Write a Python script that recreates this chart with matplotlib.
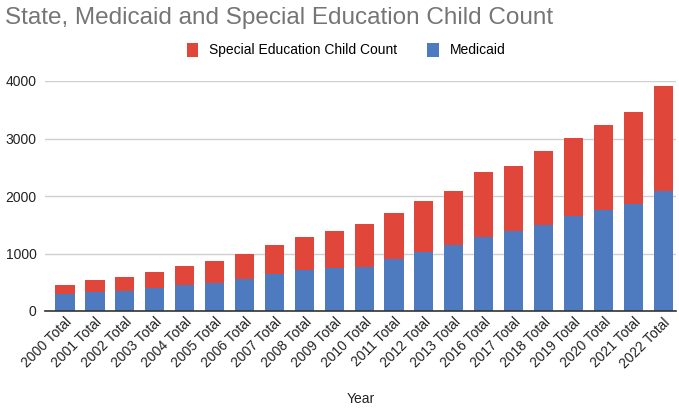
import matplotlib.pyplot as plt
import numpy as np

# ---- Data ----
years = ["2000 Total", "2001 Total", "2002 Total", "2003 Total", "2004 Total",
         "2005 Total", "2006 Total", "2007 Total", "2008 Total", "2009 Total",
         "2010 Total", "2011 Total", "2012 Total", "2013 Total", "2016 Total",
         "2017 Total", "2018 Total", "2019 Total", "2020 Total", "2021 Total",
         "2022 Total"]
medicaid = [290, 336, 354, 400, 452, 481, 557, 649, 707, 754,
            765, 899, 1020, 1148, 1293, 1391, 1501, 1652, 1757, 1861, 2087]
special_ed = [157, 197, 243, 284, 331, 389, 440, 493, 580, 637,
              754, 811, 899, 933, 1124, 1131, 1276, 1351, 1478, 1606, 1820]

blue = "#4e7bbf"
red = "#e0473a"

plt.rcParams["font.family"] = ["Liberation Sans", "DejaVu Sans"]

fig = plt.figure(figsize=(6.79, 4.08), dpi=100)
ax = fig.add_axes([45 / 679, 97 / 408, 631 / 679, 230 / 408])

x = np.arange(len(years))
ax.bar(x, medicaid, width=0.64, color=blue, label="Medicaid", zorder=3)
ax.bar(x, special_ed, width=0.64, bottom=medicaid, color=red,
       label="Special Education Child Count", zorder=3)

ax.set_ylim(0, 4000)
ax.set_xlim(-0.67, 20.43)
ax.set_yticks([0, 1000, 2000, 3000, 4000])
ax.grid(axis="y", color="#d0d0d0", linewidth=1, zorder=0)
ax.tick_params(axis="y", length=0, labelsize=10, colors="#222222", pad=6)
ax.tick_params(axis="x", length=0, labelsize=10, colors="#222222", pad=3)
ax.set_xticks(x)
ax.set_xticklabels(years, rotation=45, ha="right", rotation_mode="anchor")

for s in ["top", "right", "left"]:
    ax.spines[s].set_visible(False)
ax.spines["bottom"].set_color("#333333")
ax.spines["bottom"].set_linewidth(1.2)
ax.spines["bottom"].set_zorder(4)

ax.set_xlabel("Year", fontsize=10, color="#222222")
ax.xaxis.set_label_coords(0.5, -0.352)

fig.text(5 / 679, 1 - 18 / 408, "State, Medicaid and Special Education Child Count",
         fontsize=17.5, color="#757575", va="center", ha="left")

handles, labels = ax.get_legend_handles_labels()
fig.legend(handles[::-1], labels[::-1], loc="center", ncol=2,
           bbox_to_anchor=(346 / 679, 1 - 50 / 408), frameon=False,
           fontsize=10, handlelength=0.8, handleheight=1.2,
           handletextpad=0.8, columnspacing=2.2)

fig.savefig("out.png", dpi=100)
